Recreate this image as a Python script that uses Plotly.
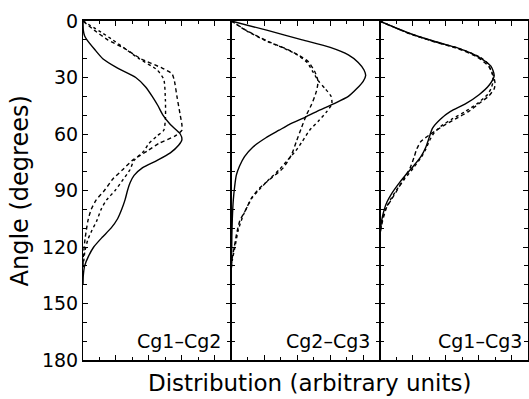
import plotly.graph_objects as go

# ---------------- data ----------------
panel_labels = ["Cg1\u2013Cg2", "Cg2\u2013Cg3", "Cg1\u2013Cg3"]
y_ticks = [0, 30, 60, 90, 120, 150, 180]

# Panel 1: Cg1-Cg2
p1_solid_ang = [0, 5, 8, 10, 15, 20, 25, 30, 35, 40, 45, 50, 55, 60, 63, 66, 70, 74, 78, 82, 86, 90, 95, 100, 105, 110, 115, 120, 125, 130, 135, 140]
p1_solid_val = [0, 0.02, 0.1, 0.24, 0.7, 1.2, 2.1, 3.2, 3.8, 4.2, 4.55, 4.85, 5.3, 5.9, 6.0, 5.8, 5.3, 4.5, 3.6, 3.1, 2.85, 2.7, 2.55, 2.35, 2.1, 1.7, 1.15, 0.65, 0.33, 0.1, 0.02, 0]
p1_dash_ang = [0, 5, 10, 15, 20, 25, 28, 32, 40, 50, 55, 58, 61, 65, 69, 74, 79, 84, 90, 95, 100, 106, 116, 125, 130]
p1_dash_val = [0, 0.7, 1.5, 2.6, 3.5, 4.8, 5.4, 5.55, 5.7, 5.9, 6.0, 6.0, 5.6, 4.6, 3.9, 3.0, 2.4, 1.8, 1.3, 0.8, 0.5, 0.3, 0.12, 0.02, 0]
p1_dot_ang = [0, 6.5, 10, 15, 20, 26, 31, 42, 52, 58, 61, 65, 69, 74, 79, 84, 90, 95, 100, 106, 111, 116, 122, 127, 132]
p1_dot_val = [0, 1.2, 1.8, 2.6, 3.4, 4.5, 4.9, 5.0, 5.0, 4.9, 4.5, 4.0, 3.7, 3.1, 2.85, 2.45, 1.95, 1.43, 1.1, 0.84, 0.55, 0.3, 0.12, 0.05, 0]

# Panel 2: Cg2-Cg3
p2_solid_ang = [0, 5, 10, 14, 18, 22, 26, 29, 32, 36, 40, 44, 48, 51, 55, 58, 62, 67, 72, 77, 82, 88, 95, 105, 115, 125, 130]
p2_solid_val = [0, 2.2, 4.3, 6.0, 7.1, 7.7, 8.05, 8.15, 8.0, 7.6, 7.1, 6.2, 5.2, 4.5, 3.5, 2.9, 2.1, 1.3, 0.8, 0.5, 0.3, 0.2, 0.12, 0.06, 0.03, 0.02, 0]
p2_dash_ang = [0, 5.6, 10.9, 14.5, 18, 21.5, 26.8, 32, 37.4, 44.5, 49.8, 56.8, 63.9, 71, 78, 83.3, 88.6, 93.9, 101, 106, 113, 120, 125.6, 130]
p2_dash_val = [0, 1.03, 2.24, 3.25, 4.05, 4.66, 5.06, 5.26, 5.16, 4.86, 4.56, 4.25, 3.95, 3.65, 3.15, 2.44, 1.73, 1.23, 0.83, 0.52, 0.32, 0.18, 0.06, 0]
p2_dot_ang = [0, 5.6, 10.9, 14.5, 18, 22, 27, 32, 36, 40, 44, 48, 53, 58, 64, 69, 74, 79, 84, 89, 94, 103, 111, 120, 127, 132]
p2_dot_val = [0, 1.0, 2.2, 3.2, 4.0, 4.6, 4.95, 5.3, 5.7, 6.05, 6.1, 5.8, 5.3, 4.75, 4.3, 3.9, 3.4, 2.9, 2.3, 1.75, 1.25, 0.73, 0.42, 0.22, 0.06, 0]

# Panel 3: Cg1-Cg3
p3_solid_ang = [0, 3, 6.5, 11, 14.5, 19, 24, 29, 34, 39, 44, 48, 52, 57, 62, 67, 72, 77, 82, 87, 92, 96, 100, 106, 113, 118]
p3_solid_val = [0, 0.8, 1.8, 3.4, 4.8, 6.0, 6.75, 6.95, 6.65, 6.05, 5.2, 4.3, 3.7, 3.2, 3.0, 2.8, 2.5, 2.05, 1.55, 1.1, 0.7, 0.45, 0.28, 0.12, 0.02, 0]
p3_dash_ang = [0, 3, 6.5, 11, 14.5, 19, 24, 29, 33, 36, 40, 44, 48, 52, 56, 60, 64, 68, 72, 78, 84, 90, 95, 99, 106, 112, 116]
p3_dash_val = [0, 0.8, 1.75, 3.3, 4.7, 5.9, 6.6, 6.9, 7.0, 6.95, 6.6, 6.0, 5.4, 4.6, 3.8, 3.1, 2.5, 2.25, 2.1, 1.85, 1.45, 1.05, 0.7, 0.42, 0.18, 0.05, 0]
p3_dot_ang = [0, 3, 6.5, 11, 14.5, 19, 22, 27, 32, 36, 39, 44, 48, 52, 56, 60, 64, 68, 72, 78, 84, 90, 95, 100, 106, 112, 116]
p3_dot_val = [0, 0.8, 1.75, 3.35, 4.8, 6.05, 6.5, 6.8, 6.88, 6.75, 6.55, 5.9, 5.2, 4.4, 3.7, 3.25, 3.0, 2.8, 2.55, 2.05, 1.5, 1.0, 0.65, 0.35, 0.15, 0.04, 0]

panels = [
    [(p1_solid_val, p1_solid_ang), (p1_dash_val, p1_dash_ang), (p1_dot_val, p1_dot_ang)],
    [(p2_solid_val, p2_solid_ang), (p2_dash_val, p2_dash_ang), (p2_dot_val, p2_dot_ang)],
    [(p3_solid_val, p3_solid_ang), (p3_dash_val, p3_dash_ang), (p3_dot_val, p3_dot_ang)],
]
styles = ["solid", "4px,3px", "dot"]

FONT = "DejaVu Sans"
fig = go.Figure()

for i, curves in enumerate(panels):
    xa = "x" if i == 0 else f"x{i+1}"
    ya = "y" if i == 0 else f"y{i+1}"
    for (vals, angs), st in zip(curves, styles):
        fig.add_trace(go.Scatter(
            x=vals, y=angs, xaxis=xa, yaxis=ya, mode="lines",
            line=dict(color="black", width=1.4, dash=st, shape="spline", smoothing=0.6),
            showlegend=False, hoverinfo="skip"))
    fig.add_annotation(
        text=panel_labels[i], xref=xa, yref=ya, x=9, y=170, xanchor="right",
        yanchor="middle", xshift=-8 if i < 2 else -4, showarrow=False,
        font=dict(family=FONT, size=19, color="black"))

w = 1.0 / 3
for i in range(3):
    xkey = "xaxis" if i == 0 else f"xaxis{i+1}"
    ykey = "yaxis" if i == 0 else f"yaxis{i+1}"
    xa = "x" if i == 0 else f"x{i+1}"
    ya = "y" if i == 0 else f"y{i+1}"
    fig.update_layout(**{
        xkey: dict(domain=[i * w, (i + 1) * w], range=[0, 9], anchor=ya,
                   showline=True, linecolor="black", linewidth=1.5, mirror="ticks",
                   ticks="inside", tickcolor="black", tickwidth=1.3, ticklen=5,
                   tick0=0, dtick=2, showticklabels=False, showgrid=False, zeroline=False,
                   minor=dict(ticks="inside", dtick=1, ticklen=3, tickcolor="black",
                              tickwidth=1.1, showgrid=False)),
        ykey: dict(domain=[0, 1], range=[180, 0], anchor=xa,
                   showline=True, linecolor="black", linewidth=1.1, mirror="ticks",
                   ticks="inside", tickcolor="black", tickwidth=1.3, ticklen=5,
                   tickvals=y_ticks, showticklabels=(i == 0),
                   tickfont=dict(family=FONT, size=19, color="black"),
                   showgrid=False, zeroline=False,
                   minor=dict(ticks="inside", dtick=10, tick0=0, ticklen=4, tickcolor="black",
                              tickwidth=1.1, showgrid=False)),
    })

fig.add_annotation(text="Distribution (arbitrary units)", xref="paper", yref="paper",
                   x=0.51, y=0, yshift=-23, xanchor="center", yanchor="middle",
                   showarrow=False, font=dict(family=FONT, size=23, color="black"))
fig.add_annotation(text="Angle (degrees)", xref="paper", yref="paper",
                   x=-0.1416, y=0.5, xanchor="center", yanchor="middle", textangle=-90,
                   showarrow=False, font=dict(family=FONT, size=24, color="black"))

fig.update_layout(width=529, height=399, margin=dict(l=83, r=1, t=21, b=39),
                  paper_bgcolor="white", plot_bgcolor="white",
                  font=dict(family=FONT, color="black"))

fig.write_html("out.html", config={"displayModeBar": False},
               post_script="document.body.style.margin='0';document.body.style.overflow='hidden';")
